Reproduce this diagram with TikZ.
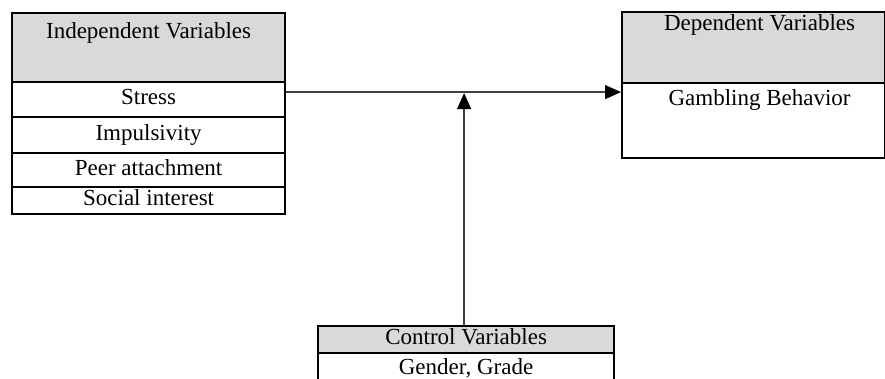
\documentclass[tikz,border=0pt]{standalone}
\usepackage{fontspec}
\setmainfont{Liberation Serif}
\usetikzlibrary{arrows.meta}
\definecolor{headgray}{HTML}{D9D9D9}
\definecolor{linkgray}{HTML}{404040}
\tikzset{
	varhead/.style={draw,line width=2.2pt,fill=headgray,inner sep=0pt,anchor=north west,font=\fontsize{23}{27}\selectfont,text height=15.6pt,text depth=5pt},
	varrow/.style={draw,line width=2.2pt,fill=white,inner sep=0pt,anchor=north west,font=\fontsize{23}{27}\selectfont,text height=15.6pt,text depth=5pt},
	vartext/.style={inner sep=0pt,anchor=north,font=\fontsize{23}{27}\selectfont,text height=15.6pt,text depth=5pt},
	link/.style={draw=linkgray,line width=1.3pt,-{Triangle[length=16pt,width=14pt,color=black]}}
}
\begin{document}
\begin{tikzpicture}[x=1pt,y=-1pt]
	
	\useasboundingbox (0,0) rectangle (885,378);
	\clip (0,0) rectangle (885,378);
	%\draw[help lines,step=50] (0,0) grid (885,378);
	
	\node[varhead,minimum width=273pt,minimum height=69pt] (indepHead) at (11,12) {};
	\node[varrow,minimum width=273pt,minimum height=35pt] (stress) at (11,81) {Stress};
	\node[varrow,minimum width=273pt,minimum height=36pt] (impuls) at (11,116) {Impulsivity};
	\node[varrow,minimum width=273pt,minimum height=34pt] (peer) at (11,152) {Peer attachment};
	\node[varrow,minimum width=273pt,minimum height=27pt] (social) at (11,186) {Social interest};
	\node[vartext] (indepTitle) at ([yshift=-11pt]indepHead.north) {Independent Variables};
	
	\node[varhead,minimum width=263pt,minimum height=71pt] (depHead) at (621,11) {};
	\node[varrow,minimum width=263pt,minimum height=75pt] (depBody) at (621,82) {};
	\node[vartext] (depTitle) at ([xshift=6pt,yshift=-4pt]depHead.north) {Dependent Variables};
	\node[vartext] (gambling) at ([xshift=6pt,yshift=-8pt]depBody.north) {Gambling Behavior};
	
	\node[varhead,minimum width=296pt,minimum height=27pt] (ctrlHead) at (317,325) {Control Variables};
	\node[varrow,minimum width=296pt,minimum height=44pt] (ctrlBody) at (317,352) {};
	\node[vartext,text depth=3pt] (gender) at ([yshift=-7pt]ctrlBody.north) {Gender, Grade};
	
	\coordinate (joint) at ([yshift=7.5pt]stress.east);
	\draw[link] (joint) -- (joint -| depBody.west);
	\draw[link,shorten >=1pt] ([xshift=-2pt]ctrlHead.north) -- ([xshift=-2pt]ctrlHead.north |- joint);
	
\end{tikzpicture}
\end{document}
